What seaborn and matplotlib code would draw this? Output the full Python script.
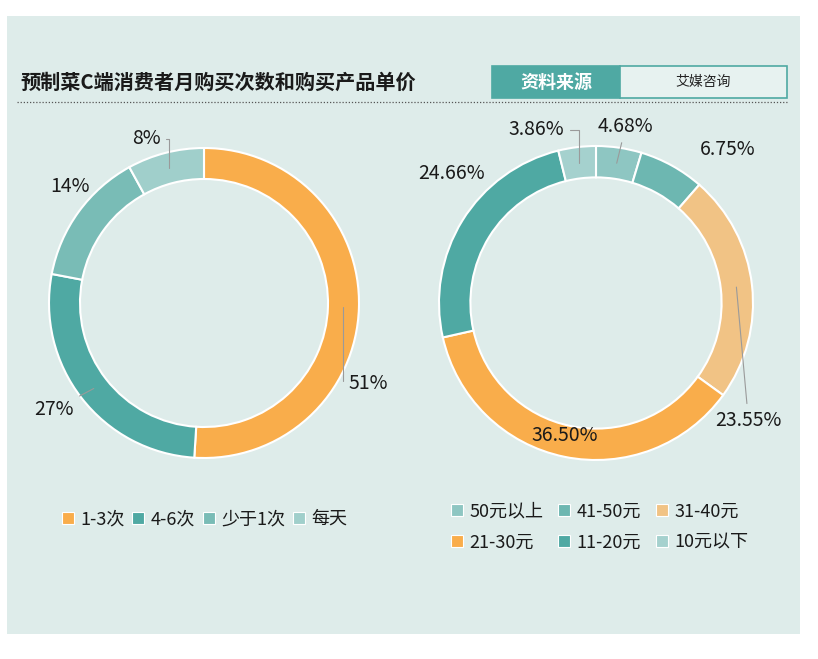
import matplotlib.pyplot as plt
import numpy as np
import seaborn as sns
from matplotlib.lines import Line2D
from matplotlib.patches import Rectangle

# data
freq_labels = ["1-3次", "4-6次", "少于1次", "每天"]
freq_values = [51, 27, 14, 8]
freq_colors = ["#f9ad4b", "#4fa9a3", "#79bcb6", "#a0cfcb"]

price_labels = ["50元以上", "41-50元", "31-40元", "21-30元", "11-20元", "10元以下"]
price_values = [4.68, 6.75, 23.55, 36.50, 24.66, 3.86]
price_colors = ["#8ec6c2", "#6db7b1", "#f1c385", "#f9ad4b", "#4fa9a3", "#a5d1ce"]

title = "预制菜C端消费者月购买次数和购买产品单价"

sns.set_theme(style="white")
plt.rcParams["font.family"] = ["Noto Sans CJK SC", "DejaVu Sans"]

W, H = 818, 659
fig = plt.figure(figsize=(W / 100, H / 100), dpi=100, facecolor="white")

def fx(x):
    return x / W

def fy(y):
    return 1 - y / H

# background panel
fig.patches.append(Rectangle((fx(7), fy(634)), fx(793), (634 - 16) / H,
                             transform=fig.transFigure, facecolor="#deecea",
                             edgecolor="none", zorder=-10))

# header
fig.text(fx(20), fy(82), title, fontsize=14.5, fontweight="bold",
         va="center", ha="left", color="#1a1a1a")
fig.patches.append(Rectangle((fx(492), fy(98)), fx(128), 32 / H,
                             transform=fig.transFigure, facecolor="#4fa9a3",
                             edgecolor="#4fa9a3", lw=1.2))
fig.patches.append(Rectangle((fx(620), fy(98)), fx(167), 32 / H,
                             transform=fig.transFigure, facecolor="#e7f2f0",
                             edgecolor="#4fa9a3", lw=1.2))
fig.text(fx(556), fy(82), "资料来源", fontsize=13, fontweight="bold",
         color="white", ha="center", va="center")
fig.text(fx(703), fy(82), "艾媒咨询", fontsize=10, color="#222222",
         ha="center", va="center")
fig.add_artist(Line2D([fx(17), fx(787)], [fy(102), fy(102)],
                      transform=fig.transFigure, color="#555555",
                      lw=0.9, ls=(0, (1, 1.5))))


def donut(cx, cy, r, values, colors, label_styles):
    ax = fig.add_axes([fx(cx - r), fy(cy + r), 2 * r / W, 2 * r / H])
    ax.set_facecolor("none")
    wedges, _ = ax.pie(values, colors=colors, startangle=90, counterclock=False,
                       wedgeprops=dict(width=0.2, edgecolor="white", linewidth=1.5))
    ax.set_xlim(-1, 1)
    ax.set_ylim(-1, 1)
    ax.set_aspect("equal")
    ax.axis("off")
    for w, v, (dx, dy, ha, conn) in zip(wedges, values, label_styles):
        mid = np.deg2rad((w.theta1 + w.theta2) / 2)
        pt = (0.9 * np.cos(mid), 0.9 * np.sin(mid))
        txt = f"{v:.2f}%" if isinstance(v, float) else f"{v}%"
        arrow = None
        if conn is not None:
            arrow = dict(arrowstyle="-", color="#9a9a9a", lw=0.8,
                         connectionstyle=conn, shrinkA=2, shrinkB=0)
        ax.annotate(txt, xy=pt, xycoords="data", xytext=(dx, dy),
                    textcoords="offset pixels", ha=ha, va="center",
                    fontsize=14, color="#1a1a1a", arrowprops=arrow,
                    annotation_clip=False)
    return ax


elbow = "angle,angleA=0,angleB=90"
donut(204, 303, 155, freq_values, freq_colors,
      [(5, -76, "left", elbow),
       (-20, -21, "right", "arc3"),
       (-21, 35, "center", None),
       (-9, 29, "right", elbow)])

donut(596, 303, 157, price_values, price_colors,
      [(9, 37, "center", "arc3"),
       (63, 30, "center", None),
       (12, -133, "center", "arc3"),
       (-3, 6, "center", None),
       (-24, 55, "center", None),
       (-15, 33, "right", elbow)])


def handle(c):
    return Line2D([], [], marker="s", linestyle="", markersize=9,
                  markerfacecolor=c, markeredgecolor="white", markeredgewidth=0.8)


fig.legend([handle(c) for c in freq_colors], freq_labels, loc="center",
           bbox_to_anchor=(fx(204), fy(519)), ncol=4, frameon=False,
           fontsize=13, handlelength=0.8, handletextpad=0.3,
           columnspacing=0.35, labelcolor="#1a1a1a")

order = [0, 3, 1, 4, 2, 5]
fig.legend([handle(price_colors[i]) for i in order],
           [price_labels[i] for i in order], loc="center",
           bbox_to_anchor=(fx(599), fy(527)), ncol=3, frameon=False,
           fontsize=13, handlelength=0.8, handletextpad=0.3,
           columnspacing=0.75, labelspacing=0.7, labelcolor="#1a1a1a")

fig.savefig("out.png", dpi=100, facecolor="white")
